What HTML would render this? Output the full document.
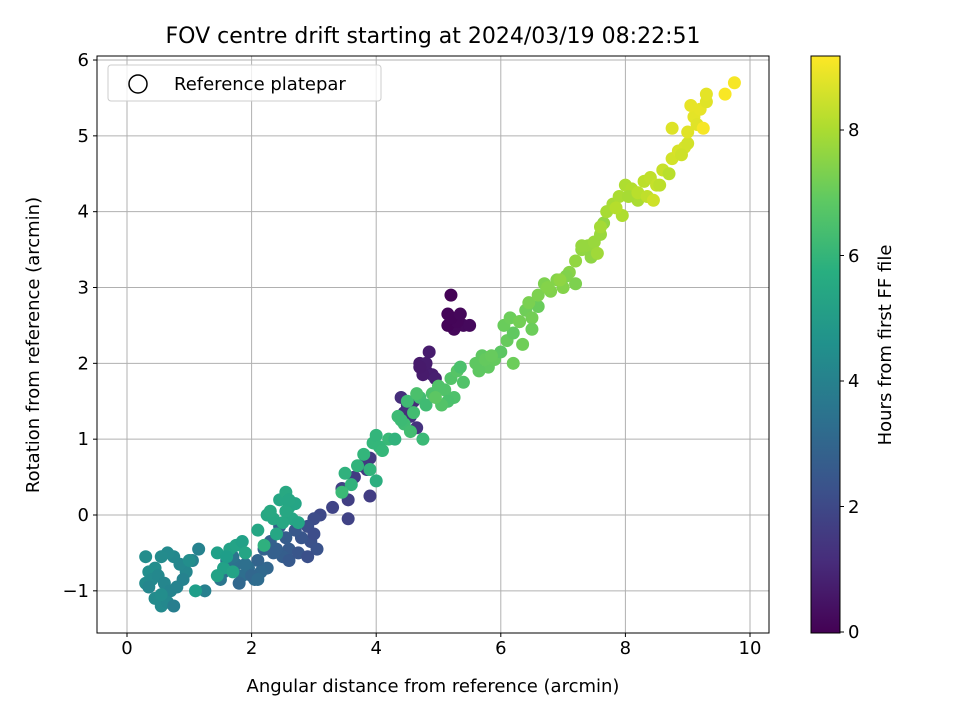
<!DOCTYPE html>
<html><head><meta charset="utf-8"><style>
body{margin:0;background:#fff;}
svg text{font-family:"DejaVu Sans","Liberation Sans",sans-serif;fill:#000;}
</style></head><body>
<svg id="chart" width="960" height="720" xmlns="http://www.w3.org/2000/svg">
<defs><linearGradient id="vir" x1="0" y1="1" x2="0" y2="0">
<stop offset="0" stop-color="#440154"/><stop offset="0.125" stop-color="#472d7b"/><stop offset="0.25" stop-color="#3b528b"/><stop offset="0.375" stop-color="#2c728e"/><stop offset="0.5" stop-color="#21918c"/><stop offset="0.625" stop-color="#28ae80"/><stop offset="0.75" stop-color="#5ec962"/><stop offset="0.875" stop-color="#addc30"/><stop offset="1" stop-color="#fde725"/>
</linearGradient></defs>
<text x="433" y="43" font-size="22" text-anchor="middle">FOV centre drift starting at 2024/03/19 08:22:51</text>
<g id="grid"></g>
<g id="points"></g>
<rect x="97" y="56" width="672" height="577" fill="none" stroke="#000" stroke-width="1"/>
<g id="axes"></g>
<text x="433" y="692" font-size="18" text-anchor="middle">Angular distance from reference (arcmin)</text>
<text transform="translate(39,345) rotate(-90)" font-size="18" text-anchor="middle">Rotation from reference (arcmin)</text>
<g>
<rect x="108" y="65" width="273" height="36" rx="3" fill="#fff" fill-opacity="0.8" stroke="#ccc"/>
<circle cx="138" cy="84" r="9" fill="none" stroke="#000" stroke-width="1.5"/>
<text x="174" y="90" font-size="18">Reference platepar</text>
</g>
<rect x="811" y="56" width="29" height="577" fill="url(#vir)" stroke="#000" stroke-width="1"/>
<g>
<line x1="840" x2="844" y1="632" y2="632" stroke="#000"/><text x="848" y="638" font-size="18">0</text>
<line x1="840" x2="844" y1="506.5" y2="506.5" stroke="#000"/><text x="848" y="513" font-size="18">2</text>
<line x1="840" x2="844" y1="381" y2="381" stroke="#000"/><text x="848" y="387" font-size="18">4</text>
<line x1="840" x2="844" y1="255.5" y2="255.5" stroke="#000"/><text x="848" y="262" font-size="18">6</text>
<line x1="840" x2="844" y1="130" y2="130" stroke="#000"/><text x="848" y="136" font-size="18">8</text>
</g>
<text transform="translate(891,345) rotate(-90)" font-size="18" text-anchor="middle">Hours from first FF file</text>
</svg>
<script>
const xTicks=[0,2,4,6,8,10];
const yTicks=[-1,0,1,2,3,4,5,6];
const hMax=9.15;
const xs=[5.2,5.15,5.2,5.3,5.4,5.25,5.15,5.3,5.5,5.2,5.35,
4.85,4.7,4.8,4.9,4.75,4.95,4.8,4.7,
4.4,4.5,4.55,4.65,4.6,4.45,4.5,
3.9,3.85,3.9,3.55,3.45,3.3,3.55,3.65,3.75,
3.1,3.0,2.9,2.95,3.05,2.8,2.7,2.6,2.5,2.4,2.3,2.2,2.6,2.75,2.9,3.0,2.55,2.45,2.35,2.1,2.25,
2.15,2.05,1.95,1.85,1.75,1.6,1.55,1.8,2.0,2.1,1.9,1.7,1.5,1.25,
1.15,1.05,0.95,0.85,0.75,0.65,0.55,0.45,0.35,0.3,0.4,0.5,0.6,0.7,0.8,0.9,1.0,0.3,0.45,0.55,0.65,0.55,0.35,0.75,1.1,
1.45,1.55,1.65,1.75,1.85,1.6,1.45,1.7,1.9,
2.1,2.25,2.35,2.45,2.55,2.6,2.65,2.7,2.5,2.4,2.3,2.55,2.6,2.75,2.2,
3.5,3.6,3.7,3.8,3.95,4.0,4.05,4.1,4.2,4.3,3.9,4.0,3.45,
4.35,4.45,4.5,4.6,4.7,4.8,4.75,4.4,4.55,4.65,
4.9,5.0,5.1,5.2,5.3,5.4,5.25,5.15,5.05,5.35,4.95,
5.6,5.7,5.8,5.9,6.0,5.65,5.75,6.1,6.2,5.85,
6.05,6.15,6.3,6.4,6.5,6.6,6.2,6.35,6.5,6.3,6.45,
6.6,6.7,6.8,6.9,7.0,7.1,7.2,6.75,7.05,6.95,
7.2,7.3,7.4,7.5,7.6,7.65,7.45,7.3,7.55,
7.6,7.7,7.8,7.9,8.0,8.1,8.2,7.95,8.05,7.85,
8.2,8.3,8.4,8.5,8.6,8.7,8.35,8.55,8.45,
8.75,8.85,8.95,9.0,8.9,8.75,
9.0,9.1,9.2,9.3,9.15,9.05,9.3,9.25,
9.6,9.75,9.65];
const ys=[2.9,2.65,2.55,2.6,2.5,2.45,2.5,2.55,2.5,2.6,2.65,
2.15,2.0,1.9,1.85,1.85,1.8,2.0,1.95,
1.55,1.4,1.3,1.15,1.5,1.35,1.45,
0.75,0.6,0.25,0.2,0.35,0.1,-0.05,0.5,0.65,
0.0,-0.05,-0.15,-0.35,-0.45,-0.3,-0.2,-0.45,-0.55,-0.45,-0.35,-0.45,-0.6,-0.5,-0.55,-0.25,-0.3,-0.15,-0.5,-0.6,-0.7,
-0.75,-0.85,-0.7,-0.8,-0.65,-0.6,-0.75,-0.9,-0.8,-0.85,-0.65,-0.55,-0.85,-1.0,
-0.45,-0.6,-0.75,-0.65,-0.55,-0.5,-0.55,-0.7,-0.75,-0.9,-0.85,-0.8,-0.9,-1.0,-0.95,-0.85,-0.6,-0.55,-1.1,-1.2,-1.15,-1.05,-0.95,-1.2,-1.0,
-0.5,-0.7,-0.45,-0.4,-0.35,-0.55,-0.8,-0.75,-0.5,
-0.2,0.0,-0.05,0.2,0.3,0.1,-0.05,0.15,-0.1,-0.25,0.05,0.05,0.2,-0.1,-0.4,
0.55,0.4,0.65,0.8,0.95,1.05,0.9,0.85,1.0,1.0,0.6,0.45,0.3,
1.3,1.2,1.5,1.35,1.55,1.45,1.0,1.25,1.1,1.6,
1.6,1.7,1.65,1.8,1.9,1.75,1.55,1.5,1.45,1.95,1.55,
2.0,2.1,1.95,2.05,2.15,1.9,2.05,2.3,2.4,2.1,
2.5,2.6,2.55,2.7,2.6,2.75,2.0,2.25,2.45,2.55,2.8,
2.9,3.05,2.95,3.1,3.0,3.2,3.05,3.0,3.15,3.1,
3.35,3.5,3.55,3.6,3.7,3.85,3.4,3.55,3.45,
3.8,4.0,4.1,4.2,4.35,4.3,4.15,3.95,4.2,4.05,
4.25,4.4,4.45,4.35,4.55,4.5,4.2,4.35,4.15,
4.7,4.8,4.85,4.9,4.75,5.1,
5.05,5.25,5.35,5.45,5.15,5.4,5.55,5.1,
5.55,5.7,5.6];
const hs=[0.05,0.1,0.12,0.15,0.2,0.18,0.08,0.14,0.22,0.1,0.16,
0.7,0.65,0.72,0.75,0.68,0.8,0.7,0.66,
1.2,1.25,1.3,1.35,1.15,1.22,1.28,
1.5,1.55,1.65,1.7,1.75,1.85,1.8,1.6,1.52,
2.0,2.1,2.2,2.3,2.35,2.4,2.5,2.6,2.7,2.75,2.8,2.85,2.55,2.45,2.25,2.15,2.65,2.7,2.78,2.9,
3.0,3.1,3.2,3.25,3.3,3.4,3.45,3.15,3.05,3.0,3.2,3.35,3.5,3.6,
4.0,4.05,4.1,4.2,4.25,4.3,4.35,4.4,4.45,4.5,4.4,4.35,4.3,4.2,4.15,4.1,4.05,4.5,4.45,4.4,4.35,4.3,4.45,4.2,3.9,
5.1,5.15,5.2,5.25,5.3,5.2,5.1,5.25,5.3,
5.35,5.4,5.45,5.45,5.4,5.5,5.45,5.4,5.35,5.45,5.4,5.5,5.45,5.4,5.35,
5.8,5.85,5.9,5.95,6.0,6.05,6.0,6.05,6.1,6.15,5.9,5.95,5.75,
6.2,6.25,6.3,6.3,6.35,6.35,6.3,6.2,6.25,6.35,
6.5,6.55,6.6,6.6,6.65,6.7,6.6,6.55,6.5,6.65,6.5,
6.8,6.85,6.85,6.9,6.95,6.8,6.85,6.95,7.0,6.9,
7.0,7.05,7.1,7.1,7.15,7.2,7.05,7.1,7.15,7.1,7.2,
7.3,7.35,7.35,7.4,7.45,7.45,7.5,7.35,7.45,7.4,
7.6,7.65,7.65,7.7,7.75,7.75,7.65,7.6,7.7,
7.85,7.9,7.95,7.95,8.0,8.05,8.1,8.0,8.05,7.95,
8.15,8.2,8.25,8.3,8.35,8.4,8.2,8.3,8.25,
8.5,8.55,8.6,8.6,8.55,8.5,
8.7,8.75,8.8,8.85,8.75,8.75,8.85,8.8,
9.05,9.1,9.05];

const SVGNS='http://www.w3.org/2000/svg';
const pL=97,pR=769,pT=56,pB=633;
function sx(v){return 127+v*62.3;}
function sy(v){return 515-v*75.83;}
const vir=[[68,1,84],[72,40,120],[62,74,137],[49,104,142],[38,130,142],[31,158,137],[53,183,121],[109,205,89],[180,222,44],[253,231,37]];
function vcolor(h){var t=Math.max(0,Math.min(1,h/hMax))*(vir.length-1);var i=Math.min(vir.length-2,Math.floor(t));var f=t-i;
var c=[0,1,2].map(function(k){return Math.round(vir[i][k]+(vir[i+1][k]-vir[i][k])*f);});return 'rgb('+c[0]+','+c[1]+','+c[2]+')';}
function mk(tag,attrs,parent){var e=document.createElementNS(SVGNS,tag);for(var k in attrs)e.setAttribute(k,attrs[k]);parent.appendChild(e);return e;}
var gGrid=document.getElementById('grid'),gAxes=document.getElementById('axes'),gPts=document.getElementById('points');
xTicks.forEach(function(v){var x=sx(v);
 var g=mk('line',{x1:x,x2:x,y1:pT,y2:pB,stroke:'#b0b0b0','stroke-width':1},gGrid);
 
 
 var t=mk('line',{x1:x,x2:x,y1:pB,y2:pB+4,stroke:'#000'},gAxes);
 
 
 var l=mk('text',{x:x,y:pB+21,'font-size':18,'text-anchor':'middle'},gAxes);l.textContent=String(v);
 
 });
yTicks.forEach(function(v){var y=sy(v);
 var g=mk('line',{x1:pL,x2:pR,y1:y,y2:y,stroke:'#b0b0b0','stroke-width':1},gGrid);
 
 
 var t=mk('line',{x1:pL-4,x2:pL,y1:y,y2:y,stroke:'#000'},gAxes);
 
 
 var l=mk('text',{x:pL-8,y:y+6,'font-size':18,'text-anchor':'end'},gAxes);l.textContent=v<0?'\u2212'+Math.abs(v):String(v);
 
 });
for(var i=0;i<xs.length;i++){var c=mk('circle',{cx:sx(xs[i]),cy:sy(ys[i]),r:6.5,fill:vcolor(hs[i])},gPts);
 
 }
var refm=mk('circle',{cx:sx(0),cy:sy(0),r:9,fill:'none',stroke:'#000','stroke-width':1.5},gPts);


</script>
</body></html>
